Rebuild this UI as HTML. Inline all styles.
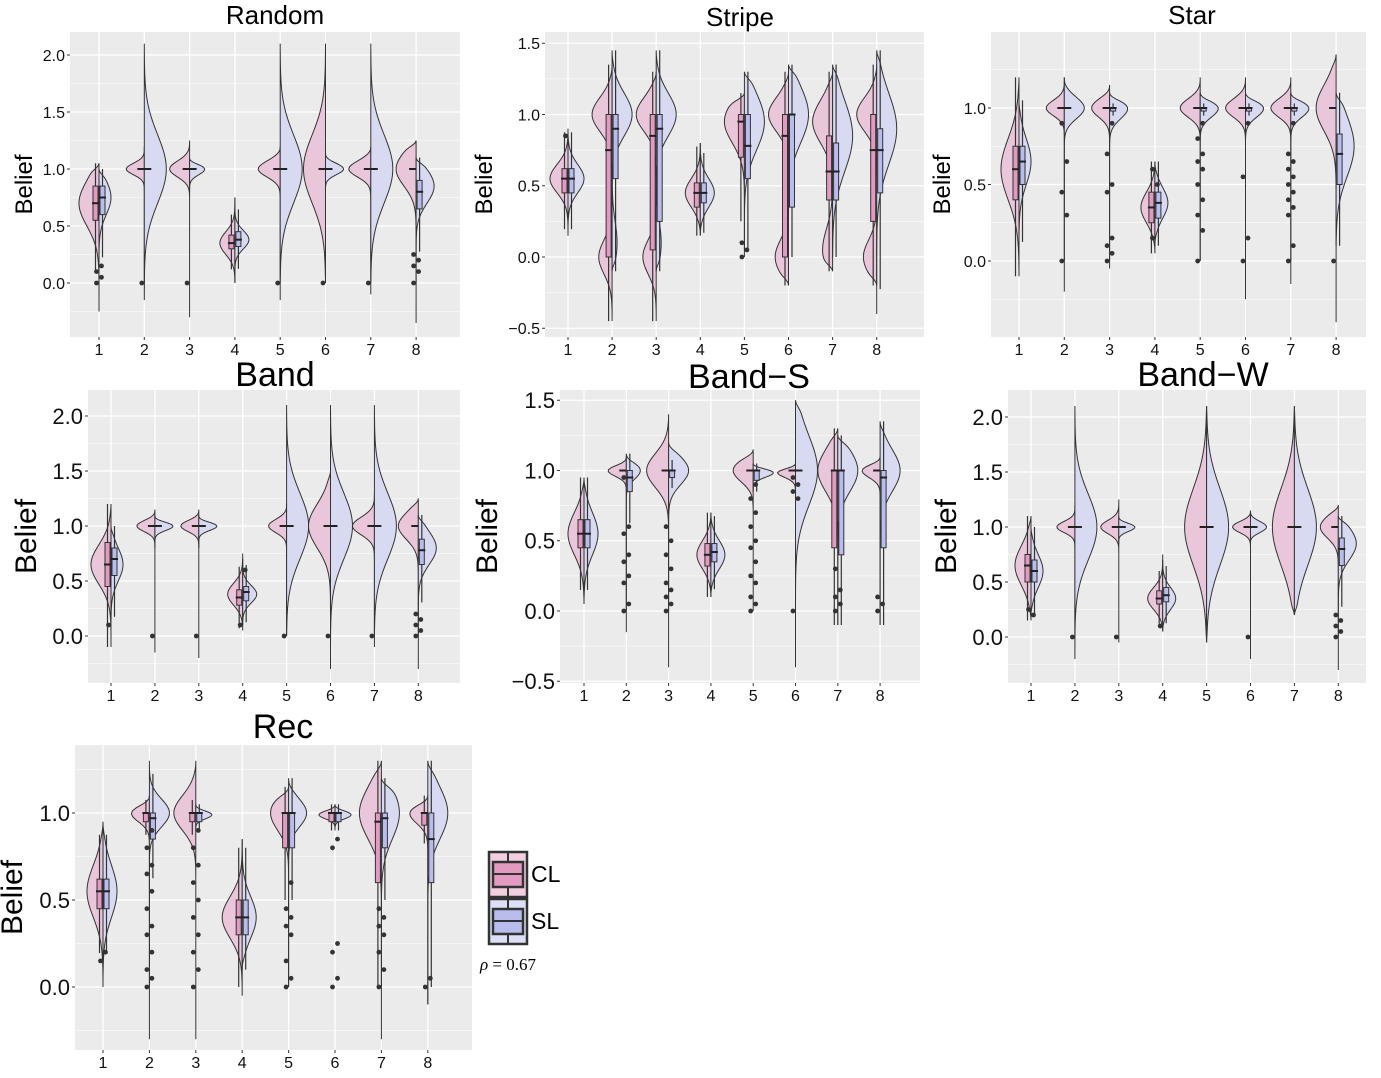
<!DOCTYPE html>
<html><head><meta charset="utf-8"><style>
body{margin:0;background:#fff;}
svg{display:block;font-family:"Liberation Sans",sans-serif;}
</style></head><body>
<svg id="chart" width="1381" height="1078" viewBox="0 0 1381 1078"></svg>
<script>
// ---- data (per panel: half violin = [lo, hi, widthPx, c1, sd1, w1, c2, sd2, w2]) ----
const categories = ["1","2","3","4","5","6","7","8"];
const randomCL = [[-0.25,1.05,20,0.7,0.2,1],[0,1.2,18,1,0.05,1],[-0.3,1.25,20,1,0.07,1],[0,0.75,15,0.35,0.1,1],[-0.15,1.2,22,1,0.07,1],[0,2.1,22,1,0.3,1],[-0.1,1.2,22,1,0.07,1],[-0.35,1.25,20,1,0.15,1]];
const randomSL = [[0,1,12,0.75,0.15,1],[-0.15,2.1,22,1,0.3,1],[0.8,1.1,15,1,0.05,1],[0,0.75,14,0.38,0.08,1],[0,2.1,22,1,0.3,1],[0.8,1.15,18,1,0.05,1],[0,2.1,22,1,0.3,1],[0,1.1,18,0.85,0.15,1]];
const randomBoxCL = [[0.55,0.7,0.85],[1,1,1],[1,1,1],[0.3,0.35,0.42],[1,1,1],[1,1,1],[1,1,1],[1,1,1]];
const randomBoxSL = [[0.6,0.75,0.85],[1,1,1],[1,1,1],[0.32,0.38,0.45],[1,1,1],[1,1,1],[1,1,1],[0.65,0.8,0.9]];
const randomOut = [[0,0.05,0.1,0.15],[0],[0],[],[0],[0],[0],[0,0.1,0.15,0.2,0.25]];

const stripeCL = [[0.15,0.9,18,0.55,0.1,1],[-0.45,1.35,20,1,0.12,0.6,0,0.12,0.4],[-0.45,1.3,20,1,0.12,0.6,0,0.12,0.4],[0.15,0.8,15,0.45,0.1,1],[0,1.15,20,0.95,0.15,1],[-0.2,1.3,20,1,0.12,0.6,0,0.12,0.4],[-0.1,1.3,20,0.95,0.15,0.6,0.05,0.15,0.3],[-0.2,1.35,20,1,0.12,0.6,0,0.12,0.4]];
const stripeSL = [[0.15,0.9,16,0.55,0.1,1],[-0.1,1.45,20,1,0.15,0.8,0.1,0.15,0.2],[-0.1,1.45,20,1,0.15,0.8,0.1,0.15,0.2],[0.15,0.8,14,0.45,0.1,1],[0.05,1.3,20,0.95,0.2,1],[0,1.35,20,1,0.2,1],[0,1.35,20,0.85,0.25,1],[-0.4,1.45,20,0.9,0.25,1]];
const stripeBoxCL = [[0.45,0.55,0.62],[0,0.75,1],[0.05,0.85,1],[0.35,0.45,0.52],[0.7,0.95,1],[0,0.85,1],[0.4,0.6,0.85],[0.25,0.75,1]];
const stripeBoxSL = [[0.45,0.55,0.62],[0.55,0.9,1],[0.25,0.9,1],[0.38,0.45,0.52],[0.55,0.78,1],[0.35,1,1],[0.4,0.6,0.8],[0.45,0.75,0.9]];
const stripeOut = [[0.85],[],[],[],[0,0.05,0.1],[],[],[]];

const starCL = [[-0.1,1.2,18,0.6,0.2,1],[-0.2,1.2,18,1,0.05,1],[-0.05,1.15,18,1,0.06,1],[0.05,0.65,14,0.35,0.1,1],[0,1.2,20,1,0.06,1],[-0.25,1.2,20,1,0.06,1],[-0.15,1.2,20,1,0.06,1],[-0.4,1.35,20,1,0.15,1]];
const starSL = [[0.1,1.05,12,0.65,0.15,1],[0,1.2,20,1,0.07,1],[0,1.1,18,1,0.07,1],[0.1,0.65,13,0.38,0.1,1],[0,1.1,18,1,0.06,1],[0,1.1,18,1,0.06,1],[0,1.1,18,1,0.06,1],[0.1,1.1,18,0.75,0.2,1]];
const starBoxCL = [[0.4,0.6,0.75],[1,1,1],[1,1,1],[0.25,0.35,0.45],[1,1,1],[1,1,1],[1,1,1],[1,1,1]];
const starBoxSL = [[0.5,0.65,0.75],[1,1,1],[0.98,1,1],[0.28,0.38,0.45],[0.98,1,1],[0.98,1,1],[0.98,1,1],[0.5,0.7,0.83]];
const starOut = [[],[0,0.3,0.45,0.65,0.9],[0,0.05,0.1,0.15,0.45,0.5,0.7,0.9],[0.15,0.5,0.6],[0,0.2,0.3,0.4,0.5,0.6,0.65,0.7,0.8,0.9],[0,0.15,0.55,0.9],[0,0.1,0.3,0.35,0.4,0.45,0.5,0.55,0.6,0.65,0.7,0.9],[0]];

const bandCL = [[-0.1,1.2,20,0.65,0.18,1],[-0.15,1.15,18,1,0.05,1],[-0.2,1.15,18,1,0.05,1],[0.05,0.75,15,0.38,0.1,1],[0,1.2,18,1,0.06,1],[-0.3,1.5,22,1,0.2,1],[-0.1,1.3,22,1,0.08,1],[-0.3,1.25,20,1,0.12,1]];
const bandSL = [[0.1,1,12,0.65,0.15,1],[0.8,1.1,18,1,0.04,1],[0.8,1.1,18,1,0.04,1],[0.1,0.7,14,0.38,0.08,1],[0,2.1,22,1,0.3,1],[-0.1,2.1,22,1,0.3,1],[0,2.1,22,1,0.3,1],[0,1.1,18,0.8,0.15,1]];
const bandBoxCL = [[0.45,0.65,0.85],[1,1,1],[1,1,1],[0.28,0.35,0.42],[1,1,1],[1,1,1],[1,1,1],[1,1,1]];
const bandBoxSL = [[0.55,0.7,0.8],[1,1,1],[1,1,1],[0.32,0.4,0.45],[1,1,1],[1,1,1],[1,1,1],[0.65,0.78,0.88]];
const bandOut = [[0.1],[0],[0],[0.1,0.6],[0],[0],[0],[0,0.05,0.1,0.15,0.2]];

const bandSCL = [[0.05,0.95,16,0.55,0.15,1],[-0.15,1.1,18,1,0.04,1],[-0.4,1.4,22,1,0.12,1],[0.1,0.7,14,0.4,0.1,1],[0,1.15,20,1,0.08,1],[0,1.05,18,1,0.04,1],[-0.1,1.3,20,1,0.15,1],[-0.1,1.1,18,1,0.05,1]];
const bandSSL = [[0.05,0.95,14,0.55,0.15,1],[0,1.12,14,1,0.06,1],[0,1.2,20,1,0.1,1],[0.1,0.7,14,0.4,0.1,1],[0.85,1.05,20,1,0.04,1],[-0.4,1.5,22,1,0.25,1],[-0.1,1.25,20,1,0.15,1],[-0.1,1.35,20,1,0.15,1]];
const bandSBoxCL = [[0.45,0.55,0.65],[1,1,1],[1,1,1],[0.32,0.4,0.48],[1,1,1],[1,1,1],[0.45,1,1],[1,1,1]];
const bandSBoxSL = [[0.45,0.55,0.65],[0.85,0.95,1],[0.95,1,1],[0.35,0.42,0.48],[0.93,1,1],[1,1,1],[0.4,1,1],[0.45,0.95,1]];
const bandSOut = [[],[0,0.05,0.2,0.25,0.35,0.4,0.55,0.6,0.95],[0,0.05,0.1,0.15,0.2,0.3,0.4,0.5,0.6],[],[0,0.05,0.1,0.2,0.25,0.35,0.45,0.5,0.6,0.7,0.8,0.9],[0,0.8,0.85,0.9,0.95],[0,0.05,0.1,0.15,0.3],[0,0.05,0.1]];

const bandWCL = [[0.15,1.1,16,0.65,0.18,1],[0,1.2,18,1,0.05,1],[-0.05,1.25,18,1,0.06,1],[0.05,0.75,15,0.35,0.1,1],[-0.05,2.1,22,1,0.35,1],[-0.2,1.15,18,1,0.05,1],[0.2,2.1,22,1,0.35,1],[-0.3,1.2,18,1,0.1,1]];
const bandWSL = [[0.2,1,12,0.6,0.15,1],[-0.2,2.1,22,1,0.3,1],[0.85,1.1,16,1,0.04,1],[0.05,0.7,13,0.35,0.1,1],[-0.05,2.1,22,1,0.35,1],[0.85,1.15,16,1,0.05,1],[0.2,2.1,22,1,0.35,1],[0,1.1,18,0.85,0.15,1]];
const bandWBoxCL = [[0.5,0.65,0.75],[1,1,1],[1,1,1],[0.3,0.35,0.42],[1,1,1],[1,1,1],[1,1,1],[1,1,1]];
const bandWBoxSL = [[0.5,0.6,0.7],[1,1,1],[1,1,1],[0.32,0.38,0.45],[1,1,1],[1,1,1],[1,1,1],[0.65,0.8,0.9]];
const bandWOut = [[0.25,0.2],[0],[0],[0.1],[],[0],[],[0,0.05,0.1,0.15,0.2]];

const recCL = [[0,0.95,16,0.55,0.15,1],[-0.3,1.1,18,1,0.05,1],[-0.3,1.3,22,1,0.1,1],[-0.05,0.85,20,0.4,0.12,1],[0,1.15,18,1,0.1,1],[0.9,1.05,16,1,0.03,1],[-0.3,1.3,22,1,0.15,1],[-0.1,1.1,18,1,0.06,1]];
const recSL = [[0,0.95,14,0.55,0.15,1],[0,1.3,20,1,0.08,1],[0.9,1.05,16,1,0.03,1],[0.1,0.85,14,0.4,0.12,1],[0,1.2,18,1,0.08,1],[0.9,1.05,16,1,0.03,1],[0,1.2,18,1,0.15,1],[-0.1,1.3,20,1,0.15,1]];
const recBoxCL = [[0.45,0.55,0.62],[0.95,1,1],[0.95,1,1],[0.3,0.4,0.5],[0.8,1,1],[0.95,1,1],[0.6,0.95,1],[0.93,1,1]];
const recBoxSL = [[0.45,0.55,0.62],[0.85,0.97,1],[0.95,1,1],[0.3,0.4,0.5],[0.8,1,1],[0.95,1,1],[0.8,0.97,1],[0.6,0.85,1]];
const recOut = [[0.15,0.2],[0,0.05,0.1,0.2,0.3,0.35,0.45,0.55,0.65,0.7,0.8,0.9],[0,0.1,0.2,0.3,0.4,0.5,0.6,0.7,0.8,0.9],[],[0,0.05,0.15,0.3,0.35,0.4,0.45,0.6],[0,0.05,0.2,0.25,0.8,0.85],[0,0.1,0.2,0.3,0.35,0.4,0.45],[0,0.05]];

// ---- layout ----
const panels = [
 {name:"random",title:"Random",rect:[70,32,390,305],y0:283,k:114,ticks:[0,0.5,1,1.5,2],x1:99,dx:45.3,tx:275,ty:24,ts:26,lx:32,ls:24,tf:16,cl:randomCL,sl:randomSL,bc:randomBoxCL,bs:randomBoxSL,out:randomOut},
 {name:"stripe",title:"Stripe",rect:[545,32,379,305],y0:257,k:142.5,ticks:[-0.5,0,0.5,1,1.5],x1:568,dx:44.1,tx:740,ty:26,ts:26,lx:492,ls:24,tf:16,cl:stripeCL,sl:stripeSL,bc:stripeBoxCL,bs:stripeBoxSL,out:stripeOut},
 {name:"star",title:"Star",rect:[991,32,375,305],y0:261,k:153,ticks:[0,0.5,1],x1:1019,dx:45.3,tx:1192,ty:24,ts:26,lx:950,ls:24,tf:16,cl:starCL,sl:starSL,bc:starBoxCL,bs:starBoxSL,out:starOut},
 {name:"band",title:"Band",rect:[88,390,372,293],y0:636,k:110,ticks:[0,0.5,1,1.5,2],x1:111,dx:43.9,tx:275,ty:386,ts:34,lx:36,ls:30,tf:22,cl:bandCL,sl:bandSL,bc:bandBoxCL,bs:bandBoxSL,out:bandOut},
 {name:"band-s",title:"Band\u2212S",rect:[560,390,360,293],y0:611,k:140.5,ticks:[-0.5,0,0.5,1,1.5],x1:584,dx:42.3,tx:749,ty:388,ts:34,lx:497,ls:30,tf:22,cl:bandSCL,sl:bandSSL,bc:bandSBoxCL,bs:bandSBoxSL,out:bandSOut},
 {name:"band-w",title:"Band\u2212W",rect:[1008,390,358,293],y0:637,k:110,ticks:[0,0.5,1,1.5,2],x1:1031,dx:43.9,tx:1203,ty:386,ts:34,lx:956,ls:30,tf:22,cl:bandWCL,sl:bandWSL,bc:bandWBoxCL,bs:bandWBoxSL,out:bandWOut},
 {name:"rec",title:"Rec",rect:[75,745,397,305],y0:987,k:174,ticks:[0,0.5,1],x1:103,dx:46.4,tx:283,ty:738,ts:34,lx:22,ls:30,tf:22,cl:recCL,sl:recSL,bc:recBoxCL,bs:recBoxSL,out:recOut}
];
const NS="http://www.w3.org/2000/svg";
const svg=document.getElementById('chart');
function mk(tag,attrs,parent){const e=document.createElementNS(NS,tag);for(const a in attrs)e.setAttribute(a,attrs[a]);(parent||svg).appendChild(e);return e;}
function dens(h,v){let d=0;for(let i=3;i+2<h.length;i+=3)d+=h[i+2]*Math.exp(-0.5*Math.pow((v-h[i])/h[i+1],2));return d;}
function taper(h,v){const t=0.05;return (1-Math.exp(-Math.pow((v-h[0])/t,2)))*(1-Math.exp(-Math.pow((h[1]-v)/t,2)));}
function halfPath(h,cx,Y,dir){const n=80,lo=h[0],hi=h[1];let mx=0;const ds=[];for(let i=0;i<=n;i++){const v=lo+(hi-lo)*i/n;const d=dens(h,v)*taper(h,v);ds.push([v,d]);if(d>mx)mx=d;}
 let p=`M${cx},${Y(lo)}`;ds.forEach(([v,d])=>{p+=` L${(cx+dir*h[2]*d/mx).toFixed(2)},${Y(v).toFixed(2)}`;});p+=` L${cx},${Y(hi)} Z`;return p;}
panels.forEach(P=>{
 const g=mk('g',{});
 
 
 const [rx,ry,rw,rh]=P.rect;
 const Y=v=>P.y0-v*P.k, X=i=>P.x1+i*P.dx;
 const bg=mk('rect',{x:rx,y:ry,width:rw,height:rh,fill:'#ebebeb'},g);
 
 
 const step=P.ticks[1]-P.ticks[0];
 for(let t=P.ticks[0]-step/2;t<=P.ticks[P.ticks.length-1]+step;t+=step/2){const y=Y(t);if(y<ry||y>ry+rh)continue;
  const major=P.ticks.some(q=>Math.abs(q-t)<1e-6);
  mk('line',{x1:rx,x2:rx+rw,y1:y,y2:y,stroke:'#fff','stroke-width':major?1.3:0.6},g);}
 categories.forEach((c,i)=>mk('line',{x1:X(i),x2:X(i),y1:ry,y2:ry+rh,stroke:'#fff','stroke-width':1.3},g));
 P.ticks.forEach(t=>{
  mk('line',{x1:rx-3,x2:rx,y1:Y(t),y2:Y(t),stroke:'#333','stroke-width':1},g);
  const tl=mk('text',{x:rx-5,y:Y(t)+P.tf*0.36,'text-anchor':'end','font-size':P.tf,fill:'#111'},g);
  tl.textContent=(t<0?'\u2212':'')+Math.abs(t).toFixed(1);
  
  
 });
 categories.forEach((c,i)=>{
  mk('line',{x1:X(i),x2:X(i),y1:ry+rh,y2:ry+rh+3,stroke:'#333','stroke-width':1},g);
  const xl=mk('text',{x:X(i),y:ry+rh+18,'text-anchor':'middle','font-size':16,fill:'#111'},g);
  xl.textContent=c;
  
  
  const vc=mk('path',{d:halfPath(P.cl[i],X(i),Y,-1),fill:'#eac6da',stroke:'#333','stroke-width':1},g);
  
  
  const vs=mk('path',{d:halfPath(P.sl[i],X(i),Y,1),fill:'#d8daf2',stroke:'#333','stroke-width':1},g);
  
  
  [[P.bc[i],P.cl[i],-1,'#e39ac0'],[P.bs[i],P.sl[i],1,'#b8bdee']].forEach(([b,h,dir,col])=>{
   const bx=X(i)+(dir<0?-6:1), iqr=b[2]-b[0];
   const wl=Math.max(h[0],b[0]-1.5*iqr), wh=Math.min(h[1],b[2]+1.5*iqr);
   mk('line',{x1:bx+2.5,x2:bx+2.5,y1:Y(wl),y2:Y(wh),stroke:'#333','stroke-width':1.2},g);
   const r=mk('rect',{x:bx,y:Y(b[2]),width:5,height:Math.max(0.01,Y(b[0])-Y(b[2])),fill:col,stroke:'#333','stroke-width':1},g);
   
   
   mk('line',{x1:bx-1,x2:bx+6,y1:Y(b[1]),y2:Y(b[1]),stroke:'#222','stroke-width':2},g);
  });
  P.out[i].forEach((v,j)=>{
   const d=mk('circle',{cx:X(i)+(j%2?2.5:-2.5),cy:Y(v),r:2.4,fill:'#333'},g);
   
   
  });
 });
 const tt=mk('text',{x:P.tx,y:P.ty,'text-anchor':'middle','font-size':P.ts,fill:'#000'},g);
 tt.textContent=P.title;
 
 
 const cy=ry+rh/2;
 const yl=mk('text',{x:P.lx,y:cy,'text-anchor':'middle','font-size':P.ls,fill:'#000',transform:`rotate(-90 ${P.lx} ${cy})`},g);
 yl.textContent='Belief';
 
 
});
</script>
<svg style="position:absolute;left:0;top:0" width="1381" height="1078">
 <g>
  <rect x="489" y="852" width="38" height="45" fill="#f0cfe0" stroke="#333" stroke-width="2.5"/>
  <line x1="508" y1="852" x2="508" y2="897" stroke="#333" stroke-width="2"/>
  <rect x="493" y="862" width="30" height="25" fill="#e39ac0" stroke="#333" stroke-width="2.5"/>
  <line x1="493" y1="874" x2="523" y2="874" stroke="#333" stroke-width="2"/>
  <text x="531" y="882" font-size="23" font-family="Liberation Sans,sans-serif">CL</text>
 </g>
 <g>
  <rect x="489" y="899" width="38" height="45" fill="#dcdff5" stroke="#333" stroke-width="2.5"/>
  <line x1="508" y1="899" x2="508" y2="944" stroke="#333" stroke-width="2"/>
  <rect x="493" y="909" width="30" height="25" fill="#b8bdee" stroke="#333" stroke-width="2.5"/>
  <line x1="493" y1="921" x2="523" y2="921" stroke="#333" stroke-width="2"/>
  <text x="531" y="929" font-size="23" font-family="Liberation Sans,sans-serif">SL</text>
 </g>
 <text x="480" y="970" font-size="17" font-family="Liberation Serif,serif"><tspan font-style="italic">ρ</tspan> = 0.67</text>
</svg>
</body></html>
